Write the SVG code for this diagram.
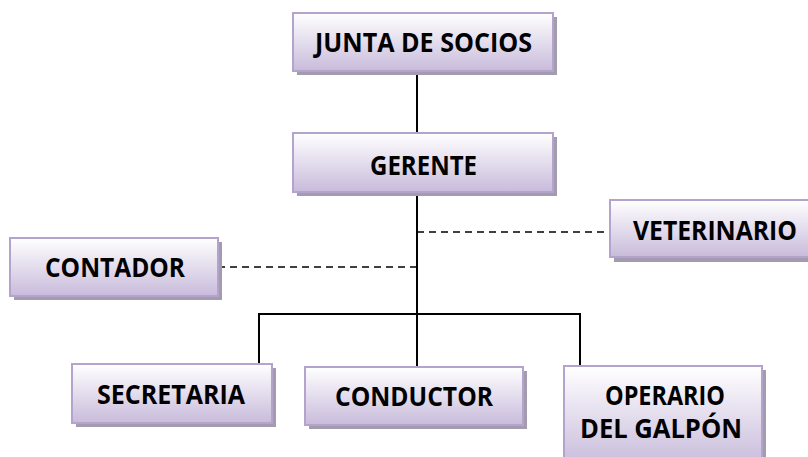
<svg xmlns="http://www.w3.org/2000/svg" width="808" height="457" viewBox="0 0 808 457">
<defs>
<linearGradient id="g" x1="0" y1="0" x2="0" y2="1">
<stop offset="0" stop-color="#ffffff"/>
<stop offset="1" stop-color="#c8bbdb"/>
</linearGradient>
</defs>
<style>
.sh{fill:#a39cae}
.bx{fill:url(#g);stroke:#b4a3cc;stroke-width:2}
.t{font-family:"Open Sans","Liberation Sans",sans-serif;font-weight:bold;font-size:26px;fill:#000;text-anchor:middle}
.ln{stroke:#000;stroke-width:2;fill:none}
.ds{stroke:#000;stroke-width:1.5;fill:none;stroke-dasharray:7 5}
</style>
<rect width="808" height="457" fill="#fff"/>
<g id="connectors">
<line class="ln" x1="417" y1="71" x2="417" y2="133"/>
<line class="ln" x1="417" y1="192" x2="417" y2="367"/>
<polyline class="ln" points="259,364 259,314 580,314 580,366"/>
<line class="ds" x1="417" y1="232" x2="610" y2="232"/>
<line class="ds" x1="218" y1="267" x2="417" y2="267"/>
</g>
<g id="junta">
<rect class="sh" x="297" y="17" width="260" height="58"/>
<rect class="bx" x="293" y="13" width="260" height="58"/>
<text class="t" x="423.5" y="52" textLength="217" lengthAdjust="spacingAndGlyphs">JUNTA DE SOCIOS</text>
</g>
<g id="gerente">
<rect class="sh" x="297" y="137" width="260" height="59"/>
<rect class="bx" x="293" y="133" width="260" height="59"/>
<text class="t" x="423.5" y="175" textLength="107" lengthAdjust="spacingAndGlyphs">GERENTE</text>
</g>
<g id="contador">
<rect class="sh" x="14" y="242" width="208" height="58"/>
<rect class="bx" x="10" y="238" width="208" height="58"/>
<text class="t" x="115" y="277" textLength="140" lengthAdjust="spacingAndGlyphs">CONTADOR</text>
</g>
<g id="veterinario">
<rect class="sh" x="614" y="204" width="200" height="58"/>
<rect class="bx" x="610" y="200" width="200" height="57"/>
<text class="t" x="715" y="240" textLength="164" lengthAdjust="spacingAndGlyphs">VETERINARIO</text>
</g>
<g id="secretaria">
<rect class="sh" x="76" y="368" width="200" height="59"/>
<rect class="bx" x="72" y="364" width="200" height="59"/>
<text class="t" x="171" y="404" textLength="148" lengthAdjust="spacingAndGlyphs">SECRETARIA</text>
</g>
<g id="conductor">
<rect class="sh" x="309" y="371" width="218" height="58"/>
<rect class="bx" x="305" y="367" width="218" height="58"/>
<text class="t" x="414" y="406" textLength="158" lengthAdjust="spacingAndGlyphs">CONDUCTOR</text>
</g>
<g id="operario">
<rect class="sh" x="568" y="370" width="198" height="100"/>
<rect class="bx" x="564" y="366" width="198" height="100"/>
<text class="t" x="665" y="405" textLength="120" lengthAdjust="spacingAndGlyphs">OPERARIO</text>
<text class="t" x="661" y="438" textLength="162" lengthAdjust="spacingAndGlyphs">DEL GALPÓN</text>
</g>
</svg>
